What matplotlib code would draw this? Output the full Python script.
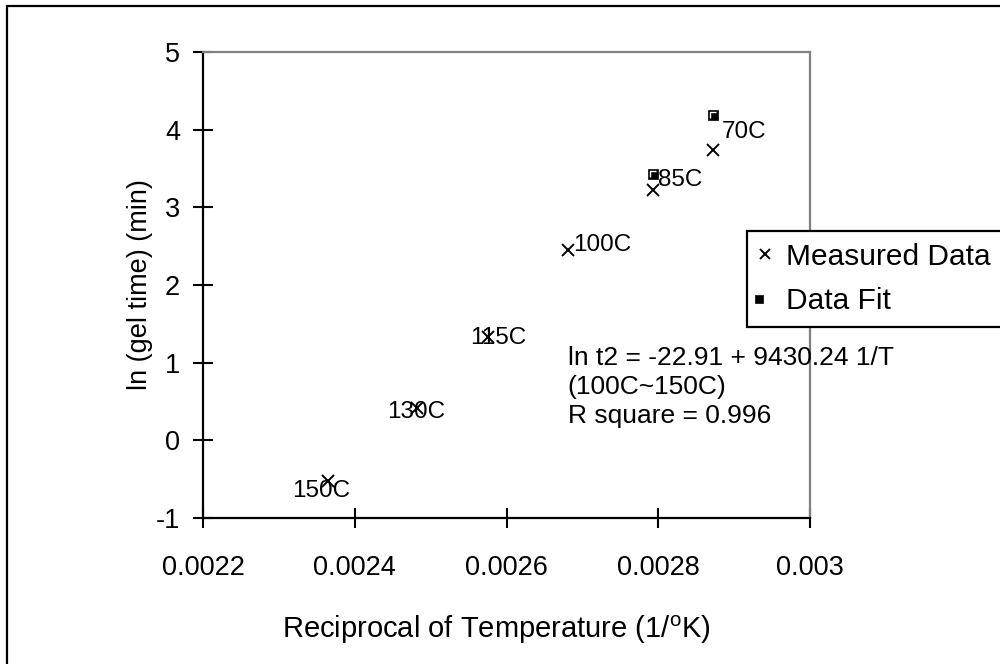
import matplotlib
matplotlib.use("Agg")
import matplotlib.pyplot as plt
from matplotlib.patches import Rectangle
from matplotlib.path import Path
from matplotlib.legend_handler import HandlerTuple

plt.rcParams['font.family'] = ['Liberation Sans', 'DejaVu Sans']
plt.rcParams['mathtext.fontset'] = 'custom'
plt.rcParams['mathtext.rm'] = 'Liberation Sans'

# ---- data ----
temp_labels = ["150C", "130C", "115C", "100C", "85C", "70C"]
recip_temp = [0.002365, 0.002482, 0.002576, 0.002681, 0.002793, 0.002872]
ln_gel_measured = [-0.52, 0.42, 1.33, 2.45, 3.22, 3.74]
fit_x = [0.002793, 0.002872]
ln_gel_fit = [3.43, 4.19]
x_ticks = [0.0022, 0.0024, 0.0026, 0.0028, 0.003]
x_tick_labels = ["0.0022", "0.0024", "0.0026", "0.0028", "0.003"]
y_ticks = [-1, 0, 1, 2, 3, 4, 5]
y_tick_labels = ["-1", "0", "1", "2", "3", "4", "5"]
# label offsets (pixels) relative to the measured points
label_offsets = [(-36, -10), (-30, -4), (-18, -1), (5, 5), (5, 10), (9, 18)]
fit_text = "ln t2 = -22.91 + 9430.24 1/T\n(100C~150C)\nR square = 0.996"

fig = plt.figure(figsize=(10, 6.64), dpi=100)
ax = fig.add_axes([0.203, 1 - 518 / 664, 0.607, 466 / 664])

# outer chart border
fig.patches.append(Rectangle((0.007, -0.1), 1.2, 1.1 - 6 / 664, transform=fig.transFigure,
                             fill=False, edgecolor='black', linewidth=1.6, zorder=0))

h_meas, = ax.plot(recip_temp, ln_gel_measured, linestyle='none', marker='x',
                  markersize=9, markeredgewidth=1.4, color='black', label='Measured Data')
h_fit1, = ax.plot(fit_x, ln_gel_fit, linestyle='none', marker='s', markersize=7.5,
                  markerfacecolor='black', markeredgecolor='black', markeredgewidth=0.5)
gamma = Path([(-1, -1), (-1, 1), (1, 1)], [Path.MOVETO, Path.LINETO, Path.LINETO])
h_fit2, = ax.plot(fit_x, ln_gel_fit, linestyle='none', marker=gamma, markersize=4.2,
                  markerfacecolor='none', markeredgecolor='white', markeredgewidth=1.0)

for lab, x, y, off in zip(temp_labels, recip_temp, ln_gel_measured, label_offsets):
    ax.annotate(lab, (x, y), xytext=off, textcoords='offset pixels',
                ha='left', va='center', fontsize=17.5, color='black')

ax.text(0.601, 0.369, fit_text, transform=ax.transAxes, ha='left', va='top',
        fontsize=19, linespacing=1.25, color='black')

ax.set_xlim(0.0022, 0.003)
ax.set_ylim(-1, 5)
ax.set_xticks(x_ticks)
ax.set_xticklabels(x_tick_labels)
ax.set_yticks(y_ticks)
ax.set_yticklabels(y_tick_labels)
ax.tick_params(direction='inout', length=15, width=1.5, labelsize=19.5, color='black')
ax.tick_params(axis='x', pad=19)
ax.tick_params(axis='y', pad=9)

for s in ['left', 'bottom']:
    ax.spines[s].set_color('black')
    ax.spines[s].set_linewidth(1.6)
for s in ['top', 'right']:
    ax.spines[s].set_color('#808080')
    ax.spines[s].set_linewidth(1.6)

ax.set_xlabel(r"Reciprocal of Temperature (1/$^{\rm o}$K)", fontsize=21)
ax.xaxis.set_label_coords(0.483, -0.205)
ax.set_ylabel("ln (gel time) (min)", fontsize=19.5)
ax.yaxis.set_label_coords(-0.082, 0.5)

leg = fig.legend([h_meas, (h_fit1, h_fit2)], ["Measured Data", "Data Fit"],
                 handler_map={tuple: HandlerTuple(ndivide=None)},
                 loc='upper left', bbox_to_anchor=(0.747, 1 - 231 / 664),
                 fontsize=21.5, frameon=True, fancybox=False, edgecolor='black',
                 framealpha=1, borderpad=0.4, handlelength=0.4, handletextpad=0.5,
                 labelspacing=0.55, borderaxespad=0, markerscale=0.75)
leg.get_frame().set_linewidth(1.6)

fig.savefig("out.png", dpi=100)
